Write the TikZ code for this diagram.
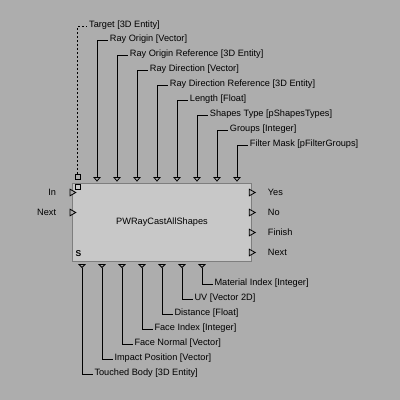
\documentclass[tikz,border=0pt]{standalone}
\usepackage{fontspec}
\setmainfont{Liberation Sans}
\begin{document}
\begin{tikzpicture}[x=1pt,y=-1pt,
  lbl/.style={inner sep=0pt,font=\fontsize{9.2}{11}\selectfont,text=black},
  wire/.style={line width=0.9pt,black},
  tri/.style={line width=0.8pt,black,fill=bg},
  dwire/.style={line width=0.9pt,black,dash pattern=on 2pt off 2pt}]
\definecolor{bg}{HTML}{ADADAD}
\definecolor{boxfill}{HTML}{C8C8C8}
\definecolor{boxline}{HTML}{7E7E7E}
\fill[bg] (0,0) rectangle (400,400);
\useasboundingbox (0,0) rectangle (400,400);
% main box
\node[draw=boxline,fill=boxfill,line width=1pt,minimum width=179pt,minimum height=78pt,inner sep=0pt,anchor=north west] (box) at (72,182.5) {};
\node[lbl] (title) at (box.center) {PWRayCastAllShapes};
\node[inner sep=0pt,font=\fontsize{8.5}{9}\selectfont\bfseries] (s) at (78.5,253.3) {S};
% target (dashed)
\node[draw,line width=0.8pt,fill=bg,minimum size=5pt,inner sep=0pt] (tsq) at (77.5,176.5) {};
\node[draw,line width=0.8pt,fill=boxfill,minimum size=5pt,inner sep=0pt] (tsq2) at (77.5,186.5) {};
\coordinate (telb) at (77.5,26.5);
\coordinate (tend) at (87,26.5);
\draw[dwire] (tsq.north) -- (telb) -- (tend);
\node[lbl,anchor=base west] (tlbl) at (89,27.5) {Target [3D Entity]};
% top inputs
\foreach \i/\x/\y/\t in {1/97/40.5/Ray Origin [Vector],
  2/117/55.5/Ray Origin Reference [3D Entity],
  3/137/70.5/Ray Direction [Vector],
  4/157/85.5/Ray Direction Reference [3D Entity],
  5/177/100.5/Length [Float],
  6/197/115.5/Shapes Type [pShapesTypes],
  7/217/130.5/Groups [Integer],
  8/237/145.5/Filter Mask [pFilterGroups]}{
  \coordinate (pin\i) at (\x,177.5);
  \coordinate (pel\i) at (\x,\y);
  \coordinate (pen\i) at (\x+11,\y);
  \draw[tri] (\x-3,177.5) -- (\x+3,177.5) -- (\x,181) -- cycle;
  \draw[wire] (pin\i) -- (pel\i) -- (pen\i);
  \node[lbl,anchor=base west] (plbl\i) at (\x+12.7,\y+1) {\t};
}
% bottom outputs
\foreach \i/\x/\y/\t in {1/82/374.5/Touched Body [3D Entity],
  2/102/359.5/Impact Position [Vector],
  3/122/344.5/Face Normal [Vector],
  4/142/329.5/Face Index [Integer],
  5/162/314.5/Distance [Float],
  6/182/299.5/UV [Vector 2D],
  7/202/284.5/Material Index [Integer]}{
  \coordinate (pout\i) at (\x,267.5);
  \coordinate (oel\i) at (\x,\y);
  \coordinate (oen\i) at (\x+10.5,\y);
  \draw[tri] (\x-3,264.5) -- (\x+3,264.5) -- (\x,267.5) -- cycle;
  \draw[wire] (pout\i) -- (oel\i) -- (oen\i);
  \node[lbl,anchor=base west] (olbl\i) at (\x+12.3,\y+1) {\t};
}
% left inputs
\foreach \i/\y/\t in {1/192.5/In, 2/212.5/Next}{
  \draw[tri] (70,\y-3.3) -- (75.8,\y) -- (70,\y+3.3) -- cycle;
  \node[lbl,anchor=base east] (in\i) at (56.3,\y+3.3) {\t};
}
% right outputs
\foreach \i/\y/\t in {1/192.5/Yes, 2/212.5/No, 3/232.5/Finish, 4/252.5/Next}{
  \draw[tri] (249.3,\y-3.3) -- (255.2,\y) -- (249.3,\y+3.3) -- cycle;
  \node[lbl,anchor=base west] (out\i) at (267.7,\y+3.3) {\t};
}
\end{tikzpicture}
\end{document}
